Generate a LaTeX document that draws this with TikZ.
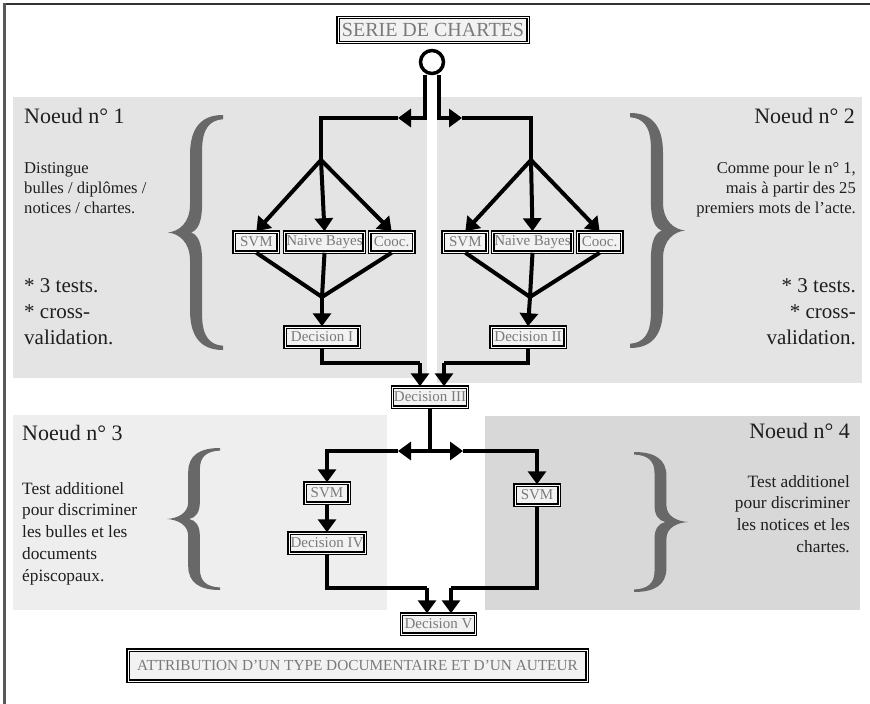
\documentclass[tikz,border=0pt]{standalone}
\usepackage{fontspec}
\setmainfont{Liberation Serif}
\usetikzlibrary{positioning, arrows.meta}
\definecolor{panelgray}{HTML}{E4E4E4}
\definecolor{panellight}{HTML}{EEEEEE}
\definecolor{paneldark}{HTML}{D8D8D8}
\definecolor{bracegray}{HTML}{686868}
\definecolor{inkgray}{HTML}{1E1E1E}
\definecolor{boxtext}{HTML}{7A7A7A}
\definecolor{boxfill}{HTML}{F2F2F2}
\tikzset{
  box/.style={draw=black, line width=1.5pt, double=white, double distance=0.9pt, fill=boxfill, text=boxtext,
    inner xsep=1.5pt, inner ysep=2pt, minimum height=20pt, font=\fontsize{15}{15}\selectfont},
  test/.style={box, minimum width=44pt},
  decision/.style={box, minimum width=74pt},
  note/.style={inner sep=0pt, text=inkgray},
  heading/.style={note, font=\fontsize{22}{26}\selectfont},
  wire/.style={line width=4pt},
  arrow/.style={wire, -{Triangle[length=13pt,width=18pt]}},
  curly/.pic={
    \fill[bracegray] (1,0) .. controls (0.62,0) and (0.4,0.05) .. (0.4,0.17)
      -- (0.4,0.38) .. controls (0.4,0.46) and (0.2,0.495) .. (0,0.5)
      .. controls (0.2,0.505) and (0.4,0.54) .. (0.4,0.62)
      -- (0.4,0.83) .. controls (0.4,0.95) and (0.62,1) .. (1,1)
      -- (1,0.982) .. controls (0.75,0.978) and (0.62,0.94) .. (0.62,0.85)
      -- (0.62,0.62) .. controls (0.62,0.55) and (0.55,0.51) .. (0.42,0.5)
      .. controls (0.55,0.49) and (0.62,0.45) .. (0.62,0.38)
      -- (0.62,0.15) .. controls (0.62,0.06) and (0.75,0.022) .. (1,0.018) -- cycle;
  }
}
\begin{document}
\begin{tikzpicture}[x=1pt, y=-1pt]
\useasboundingbox (0,0) rectangle (870,704);

% frame and panels
\draw[black!80, line width=1.5pt] (3,4) -- (870,4);
\draw[black!65, line width=3pt] (4.5,3) -- (4.5,704);
\fill[panelgray] (13,97) rectangle (427,378);
\fill[panelgray] (437,97) rectangle (862,383);
\fill[panellight] (13,415) rectangle (387,610);
\fill[paneldark] (485,416) rectangle (860,610);

% braces
\pic[xscale=55, yscale=235] at (168,115) {curly};
\pic[xscale=-55, yscale=235] at (685,113) {curly};
\pic[xscale=53, yscale=142] at (167,448) {curly};
\pic[xscale=-54, yscale=140] at (688,452) {curly};

% side texts
\node[heading, anchor=base west] (titleA) at (24,123) {Noeud n° 1};
\node[note, anchor=north west, align=left, font=\fontsize{16.6}{20}\selectfont] (descA) at (24,162) {Distingue\\bulles / diplômes /\\notices / chartes.};
\node[note, anchor=north west, align=left, font=\fontsize{21}{26}\selectfont] (testsA) at (24,278) {* 3 tests.\\* cross-\\validation.};
\node[heading, anchor=base east] (titleB) at (855,123) {Noeud n° 2};
\node[note, anchor=north east, align=right, font=\fontsize{16.6}{20}\selectfont] (descB) at (856,162) {Comme pour le n° 1,\\mais à partir des 25\\premiers mots de l’acte.};
\node[note, anchor=north east, align=right, font=\fontsize{21}{26}\selectfont] (testsB) at (856,278) {* 3 tests.\\* cross-\\validation.};
\node[heading, anchor=base west] (titleC) at (22,440) {Noeud n° 3};
\node[note, anchor=north west, align=left, font=\fontsize{17.3}{21.7}\selectfont] (descC) at (22,482) {Test additionel\\pour discriminer\\les bulles et les\\documents\\épiscopaux.};
\node[heading, anchor=base east] (titleD) at (850,438) {Noeud n° 4};
\node[note, anchor=north east, align=right, font=\fontsize{17.3}{21.7}\selectfont] (descD) at (850,475) {Test additionel\\pour discriminer\\les notices et les\\chartes.};

% nodes
\node[box, minimum width=190pt, minimum height=25pt, font=\fontsize{20}{20}\selectfont] (serie) at (433,30) {SERIE DE CHARTES};
\node[circle, draw, line width=3.5pt, fill=white, minimum size=23pt, inner sep=0pt] (src) at (432,62) {};
\node[test] (nbA) at (324.5,242) {Naive Bayes};
\node[test, left=5pt of nbA] (svmA) {SVM};
\node[test, right=4pt of nbA] (coocA) {Cooc.};
\node[decision] (decI) at (322,337) {Decision I};
\node[test] (nbB) at (532.5,242) {Naive Bayes};
\node[test, left=4pt of nbB] (svmB) {SVM};
\node[test, right=4pt of nbB] (coocB) {Cooc.};
\node[decision] (decII) at (528,337) {Decision II};
\node[decision] (decIII) at (430,397) {Decision III};
\node[test] (svmC) at (327,493) {SVM};
\node[decision] (decIV) at (327,543) {Decision IV};
\node[test] (svmD) at (537,495) {SVM};
\node[decision] (decV) at (438.5,624) {Decision V};
\node[box, minimum width=459pt, minimum height=31pt, font=\fontsize{15.3}{16}\selectfont] (attrib) at (357.5,665.5) {ATTRIBUTION D’UN TYPE DOCUMENTAIRE ET D’UN AUTEUR};

% junction points
\coordinate (splitL) at (398,118);
\coordinate (splitR) at (462,118);
\coordinate (forkA) at (321,160);
\coordinate (forkB) at (531,160);
\coordinate (joinA) at (322,297);
\coordinate (joinB) at (530,297);
\coordinate (bendA) at (420,363);
\coordinate (bendB) at (444,363);
\coordinate (hubC) at (430,451);
\coordinate (splitC) at (398,451);
\coordinate (splitD) at (463,451);
\coordinate (bendC) at (427,588);
\coordinate (bendD) at (451,588);

% connectors
\draw[arrow] (src.south) ++(-7,0) |- (splitL);
\draw[wire] (splitL) -| (forkA);
\draw[arrow] (src.south) ++(7,0) |- (splitR);
\draw[wire] (splitR) -| (forkB);
\draw[arrow] (forkA) -- (svmA.north);
\draw[arrow] (forkA) -- (nbA.north);
\draw[arrow] (forkA) -- (coocA.north);
\draw[arrow] (forkB) -- (svmB.north);
\draw[arrow] (forkB) -- (nbB.north);
\draw[arrow] (forkB) -- (coocB.north);
\draw[wire] (svmA.south) -- (joinA);
\draw[wire] (nbA.south) -- (joinA);
\draw[wire] (coocA.south) -- (joinA);
\draw[arrow] (joinA) -- (decI.north);
\draw[wire] (svmB.south) -- (joinB);
\draw[wire] (nbB.south) -- (joinB);
\draw[wire] (coocB.south) -- (joinB);
\draw[arrow] (joinB) -- (decII.north);
\draw[wire] (decI.south) |- (bendA);
\draw[arrow] (bendA) -- (bendA |- decIII.north);
\draw[wire] (decII.south) |- (bendB);
\draw[arrow] (bendB) -- (bendB |- decIII.north);
\draw[wire] (decIII.south) -- (hubC);
\draw[arrow] (hubC) -- (splitC);
\draw[arrow] (splitC) -| (svmC.north);
\draw[arrow] (hubC) -- (splitD);
\draw[arrow] (splitD) -| (svmD.north);
\draw[arrow] (svmC) -- (decIV);
\draw[wire] (decIV.south) |- (bendC);
\draw[arrow] (bendC) -- (bendC |- decV.north);
\draw[wire] (svmD.south) |- (bendD);
\draw[arrow] (bendD) -- (bendD |- decV.north);

\end{tikzpicture}
\end{document}
